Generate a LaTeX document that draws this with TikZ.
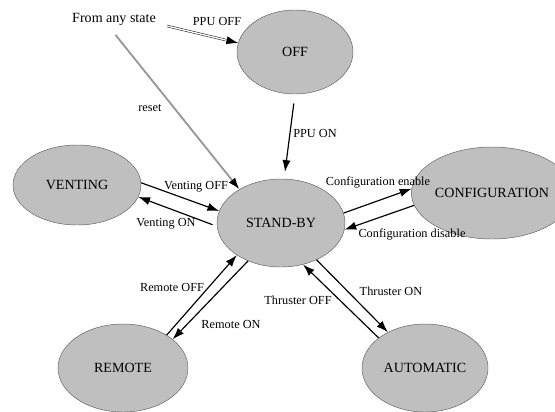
\documentclass[tikz,border=0pt]{standalone}
\usepackage{fontspec}
\setmainfont{Liberation Serif}
\usetikzlibrary{shapes.geometric,arrows.meta}
\tikzset{
  state/.style={ellipse,draw=gray!75!black,fill=gray!50,inner sep=0pt,
    font=\fontsize{12}{14}\selectfont},
  lbl/.style={inner sep=1pt,font=\fontsize{10.5}{12}\selectfont},
  trans/.style={line width=1pt,-{Latex[length=10pt,width=7pt]}}
}
\begin{document}
\begin{tikzpicture}[x=0.03cm,y=-0.03cm]
  \useasboundingbox (0,0) rectangle (555,411);
  % states
  \node[state,minimum width=3.48cm,minimum height=2.52cm] (off) at (295,52) {OFF};
  \node[state,minimum width=3.84cm,minimum height=2.64cm] (stand) at (281,223) {STAND-BY};
  \node[state,minimum width=3.84cm,minimum height=2.4cm] (vent) at (77,185) {VENTING};
  \node[state,minimum width=3.78cm,minimum height=2.76cm] (config) at (492,193) {CONFIGURATION};
  \node[state,minimum width=3.9cm,minimum height=2.64cm] (remote) at (123,368) {REMOTE};
  \node[state,minimum width=3.78cm,minimum height=2.64cm] (auto) at (425,368) {AUTOMATIC};
  \node[font=\fontsize{12}{14}\selectfont,inner sep=1pt] (any) at (114,19) {From any state};
  % transitions
  \draw[double,double distance=1.2pt,-{Latex[length=10pt,width=7pt]}] (any.east) ++(10,7)
    coordinate (ppuoff) -- (off.171);
  \draw[gray!80,line width=1.6pt,shorten <=9pt,-{Latex[length=10pt,width=7pt,black]}]
    (any.south west) ++(38,0) coordinate (rst) -- (stand.141);
  \draw[trans,shorten <=8pt,shorten >=6pt] (off.-90) -- (stand.86);
  \draw[trans] (vent.2) -- (stand.169);
  \draw[trans,shorten <=4pt] (stand.183) -- (vent.-11);
  \draw[trans] (stand.9) -- (config.177);
  \draw[trans] (config.189) -- (stand.-6);
  \draw[trans] (remote.37) -- (stand.216);
  \draw[trans] (stand.229) -- (remote.30);
  \draw[trans] (auto.147) -- (stand.-62);
  \draw[trans] (stand.-46) -- (auto.136);
  % labels
  \node[lbl] (l1) at (217,21) {PPU OFF};
  \node[lbl] (l2) at (150,108) {reset};
  \node[lbl] (l3) at (315,133) {PPU ON};
  \node[lbl] (l4) at (196,187) {Venting OFF};
  \node[lbl] (l5) at (166,224) {Venting ON};
  \node[lbl] (l6) at (378,182) {Configuration enable};
  \node[lbl] (l7) at (412,234) {Configuration disable};
  \node[lbl] (l8) at (172,287) {Remote OFF};
  \node[lbl] (l9) at (231,324) {Remote ON};
  \node[lbl] (l10) at (298,300) {Thruster OFF};
  \node[lbl] (l11) at (391,291) {Thruster ON};
\end{tikzpicture}
\end{document}
